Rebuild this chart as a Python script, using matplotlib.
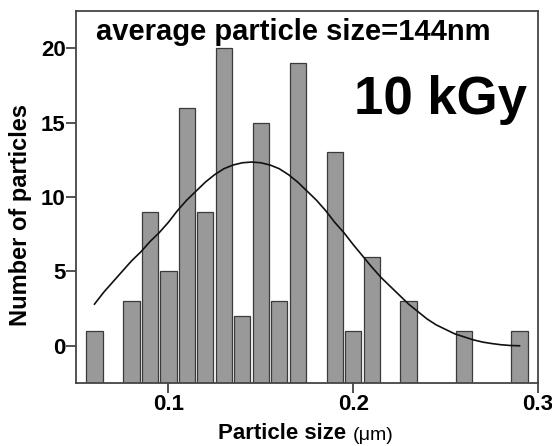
import numpy as np
import matplotlib
matplotlib.use("Agg")
import matplotlib.pyplot as plt

plt.rcParams['font.family'] = ['Liberation Sans', 'DejaVu Sans']

# histogram data
sizes = [0.06, 0.08, 0.09, 0.10, 0.11, 0.12, 0.13, 0.14, 0.15, 0.16,
         0.17, 0.19, 0.20, 0.21, 0.23, 0.26, 0.29]
counts = [1, 3, 9, 5, 16, 9, 20, 2, 15, 3, 19, 13, 1, 6, 3, 1, 1]

# fitted curve
fit_x = [0.060, 0.065, 0.070, 0.075, 0.080, 0.085, 0.090, 0.095, 0.100, 0.105,
         0.110, 0.115, 0.120, 0.125, 0.130, 0.135, 0.140, 0.145, 0.150, 0.155,
         0.160, 0.165, 0.170, 0.175, 0.180, 0.185, 0.190, 0.195, 0.200, 0.205,
         0.210, 0.215, 0.220, 0.225, 0.230, 0.235, 0.240, 0.245, 0.250, 0.255,
         0.260, 0.265, 0.270, 0.275, 0.280, 0.285, 0.290]
fit_y = [2.8, 3.6, 4.3, 5.0, 5.7, 6.3, 7.0, 7.6, 8.3, 9.1,
         9.8, 10.4, 11.0, 11.5, 11.9, 12.15, 12.3, 12.35, 12.3, 12.15,
         11.9, 11.5, 11.0, 10.4, 9.8, 9.1, 8.3, 7.6, 6.8, 6.05,
         5.3, 4.6, 4.0, 3.4, 2.8, 2.3, 1.8, 1.4, 1.1, 0.8,
         0.6, 0.4, 0.25, 0.15, 0.07, 0.02, 0.0]

ybase = -2.5

fig = plt.figure(figsize=(5.52, 4.46), dpi=100)
ax = fig.add_axes([0.1377, 0.1413, 0.8369, 0.834])

ax.bar(sizes, np.array(counts) - ybase, bottom=ybase, width=0.0088,
       color='#999999', edgecolor='#3a3a3a', linewidth=0.9, zorder=2)
ax.plot(fit_x, fit_y, color='#111111', linewidth=1.2, zorder=3)

ax.set_xlim(0.05, 0.3)
ax.set_ylim(-2.5, 22.5)
ax.set_xticks([0.1, 0.2, 0.3])
ax.set_xticklabels(['0.1', '0.2', '0.3'])
ax.set_yticks([0, 5, 10, 15, 20])

for s in ax.spines.values():
    s.set_color('#444444')
    s.set_linewidth(1.3)
ax.tick_params(direction='out', length=7, width=1.3, color='#444444',
               labelsize=16, pad=1)
ax.tick_params(axis='y', pad=0.5)
for lab in ax.get_xticklabels() + ax.get_yticklabels():
    lab.set_fontweight('bold')

ax.set_ylabel('Number of particles', fontsize=17, fontweight='bold')
ax.yaxis.set_label_coords(-0.095, 0.452)

# x label with smaller (um) part
t1 = fig.text(0.395, 0.016, 'Particle size ', fontsize=16, fontweight='bold',
              ha='left', va='baseline')
ax.annotate('(\u03bcm)', xy=(1, 0), xycoords=t1, xytext=(0, 0),
            textcoords='offset points', fontsize=14, ha='left', va='bottom')

ax.text(0.043, 0.922, 'average particle size=144nm', transform=ax.transAxes,
        fontsize=21, fontweight='bold', ha='left', va='baseline')
ax.text(0.976, 0.722, '10 kGy', transform=ax.transAxes,
        fontsize=38, fontweight='bold', ha='right', va='baseline')

fig.savefig('out.png', dpi=100)
